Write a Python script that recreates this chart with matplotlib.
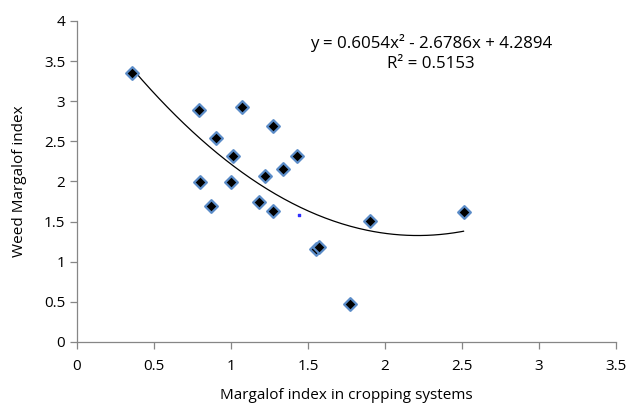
import numpy as np
import matplotlib
matplotlib.use("Agg")
import matplotlib.pyplot as plt

# values
cropping_index = [0.36, 0.79, 1.07, 1.27, 0.90, 1.01, 1.43, 1.34, 1.22, 0.80,
                  1.00, 0.87, 1.18, 1.27, 1.90, 2.51, 1.55, 1.57, 1.77]
weed_index = [3.35, 2.89, 2.93, 2.69, 2.54, 2.32, 2.32, 2.15, 2.07, 1.99,
              1.99, 1.70, 1.75, 1.63, 1.51, 1.62, 1.16, 1.18, 0.47]
stray_x = [1.44]
stray_y = [1.58]

# quadratic trendline coefficients as printed on the chart
poly_coef = [0.6054, -2.6786, 4.2894]
r_squared = 0.5153

x_ticks = [0, 0.5, 1, 1.5, 2, 2.5, 3, 3.5]
y_ticks = [0, 0.5, 1, 1.5, 2, 2.5, 3, 3.5, 4]

plt.rcParams['font.family'] = ['Open Sans', 'DejaVu Sans']

fig = plt.figure(figsize=(6.3, 4.03), dpi=100)
ax = fig.add_axes([0.1222, 0.1514, 0.8556, 0.7966])

xs = np.linspace(min(cropping_index), max(cropping_index), 200)
ax.plot(xs, np.polyval(poly_coef, xs), color='black', lw=0.9, zorder=2)

ax.scatter(cropping_index, weed_index, marker='D', s=42, c='black',
           edgecolors='#5B8CC8', linewidths=1.6, zorder=3)
ax.scatter(stray_x, stray_y, marker='s', s=0.6, c='#3030ff', zorder=3)

ax.set_xlim(0, 3.5)
ax.set_ylim(0, 4)
ax.set_xticks(x_ticks)
ax.set_xticklabels([f"{t:g}" for t in x_ticks])
ax.set_yticks(y_ticks)
ax.set_yticklabels([f"{t:g}" for t in y_ticks])

for side in ['top', 'right']:
    ax.spines[side].set_visible(False)
for side in ['left', 'bottom']:
    ax.spines[side].set_color('#868686')
    ax.spines[side].set_linewidth(0.9)
ax.tick_params(axis='both', colors='#868686', labelcolor='black', labelsize=11,
               length=5, width=0.9)
ax.tick_params(axis='x', pad=7)

ax.set_xlabel("Margalof index in cropping systems", fontsize=11, labelpad=10)
ax.set_ylabel("Weed Margalof index", fontsize=11, labelpad=12)

eq = f"y = {poly_coef[0]}x² - {abs(poly_coef[1])}x + {poly_coef[2]}\nR² = {r_squared}"
ax.text(2.30, 3.6, eq, ha='center', va='center', fontsize=12.2, linespacing=1.4)

fig.savefig("out.png", dpi=100)
